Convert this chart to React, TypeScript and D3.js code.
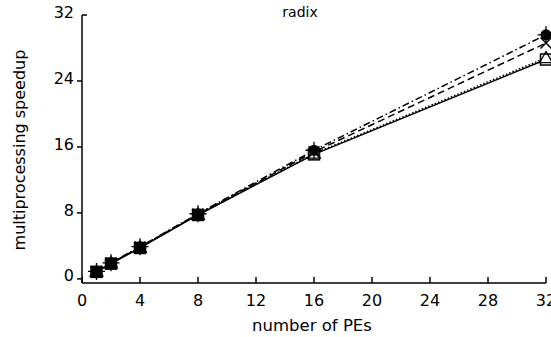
import React, { useEffect, useRef } from 'react'
import * as d3 from 'd3'

// data
const pes = [1, 2, 4, 8, 16, 32]
const seriesCircle = [0.9, 1.95, 3.9, 7.9, 15.6, 29.6]
const seriesCross = [0.9, 1.9, 3.85, 7.85, 15.4, 28.6]
const seriesTriangle = [0.9, 1.9, 3.8, 7.8, 15.2, 26.8]
const seriesSquare = [0.85, 1.85, 3.75, 7.75, 15.1, 26.6]
const xTicks = [0, 4, 8, 12, 16, 20, 24, 28, 32]
const yTicks = [0, 8, 16, 24, 32]

const series = [
  { name: 'square', values: seriesSquare, dash: '', marker: 'square' },
  { name: 'triangle', values: seriesTriangle, dash: '1.5,2', marker: 'triangle' },
  { name: 'cross', values: seriesCross, dash: '7,4', marker: 'cross' },
  { name: 'circle', values: seriesCircle, dash: '7,3,1.5,3', marker: 'circle' },
]

const width = 551
const height = 337
const font = "'DejaVu Sans', sans-serif"

function Chart() {
  const ref = useRef<SVGSVGElement>(null)

  useEffect(() => {
    const node = ref.current
    if (!node) return
    const svg = d3.select(node)
    svg.selectAll('*').remove()

    const x = d3.scaleLinear().domain([0, 32]).range([82, 546])
    const y = d3.scaleLinear().domain([-0.5, 32]).range([283, 15])

    // axes
    const xAxis = svg.append('g').attr('transform', `translate(0,${y(-0.5)})`)
    xAxis.append('line').attr('x1', x(0)).attr('x2', x(32)).attr('stroke', '#000').attr('stroke-width', 1.5)
    xAxis.selectAll('line.tick').data(xTicks).join('line')
      .attr('class', 'tick')
      .attr('x1', d => x(d)).attr('x2', d => x(d))
      .attr('y1', 0).attr('y2', -6)
      .attr('stroke', '#000').attr('stroke-width', 1.5)
    xAxis.selectAll('text').data(xTicks).join('text')
      .attr('x', d => x(d)).attr('y', 23)
      .attr('text-anchor', 'middle')
      .attr('font-family', font).attr('font-size', 16).attr('fill', '#000')
      .text(d => d)

    const yAxis = svg.append('g').attr('transform', `translate(${x(0)},0)`)
    yAxis.append('line').attr('y1', y(-0.5)).attr('y2', y(32)).attr('stroke', '#000').attr('stroke-width', 1.5)
    yAxis.selectAll('line.tick').data(yTicks).join('line')
      .attr('class', 'tick')
      .attr('y1', d => y(d)).attr('y2', d => y(d))
      .attr('x1', d => (d === 32 ? 0 : -5)).attr('x2', d => (d === 32 ? 5 : 0))
      .attr('stroke', '#000').attr('stroke-width', 1.5)
    yAxis.selectAll('text').data(yTicks).join('text')
      .attr('x', -8).attr('y', d => y(d) - 3).attr('dy', '0.35em')
      .attr('text-anchor', 'end')
      .attr('font-family', font).attr('font-size', 16).attr('fill', '#000')
      .text(d => d)

    // titles
    svg.append('text').attr('x', 312).attr('y', 331)
      .attr('text-anchor', 'middle').attr('font-family', font).attr('font-size', 16.5)
      .text('number of PEs')
    svg.append('text')
      .attr('transform', `translate(25,${150}) rotate(-90)`)
      .attr('text-anchor', 'middle').attr('font-family', font).attr('font-size', 16)
      .text('multiprocessing speedup')
    svg.append('text').attr('x', 300).attr('y', 17)
      .attr('text-anchor', 'middle').attr('font-family', font).attr('font-size', 14)
      .text('radix')

    // lines
    const line = d3.line<number>()
      .x((_, i) => x(pes[i]))
      .y(d => y(d))

    svg.append('g').selectAll('path').data(series).join('path')
      .attr('d', s => line(s.values))
      .attr('fill', 'none')
      .attr('stroke', '#000')
      .attr('stroke-width', 1.5)
      .attr('stroke-dasharray', s => s.dash)

    // markers
    const r = 5.5
    series.forEach(s => {
      const g = svg.append('g')
      s.values.forEach((v, i) => {
        const cx = x(pes[i])
        const cy = y(v)
        const filled = i < 4
        if (s.marker === 'square') {
          g.append('rect').attr('x', cx - r).attr('y', cy - r).attr('width', 2 * r).attr('height', 2 * r)
            .attr('fill', filled ? '#000' : '#fff').attr('stroke', '#000').attr('stroke-width', 1.5)
        } else if (s.marker === 'triangle') {
          g.append('path').attr('d', d3.symbol(d3.symbolTriangle, 70)())
            .attr('transform', `translate(${cx},${cy + 1})`)
            .attr('fill', filled ? '#000' : 'none').attr('stroke', '#000').attr('stroke-width', 1.3)
        } else if (s.marker === 'cross') {
          g.append('path').attr('d', `M${cx - r},${cy - r}L${cx + r},${cy + r}M${cx - r},${cy + r}L${cx + r},${cy - r}`)
            .attr('stroke', '#000').attr('stroke-width', 1.5)
        } else {
          g.append('circle').attr('cx', cx).attr('cy', cy).attr('r', r)
            .attr('fill', '#000')
          g.append('path').attr('d', `M${cx},${cy - r - 3}V${cy + r + 3}M${cx - r - 3},${cy}H${cx + r + 3}`)
            .attr('stroke', '#000').attr('stroke-width', 1.3)
        }
      })
    })
  }, [])

  return <svg ref={ref} width={width} height={height} style={{ position: 'absolute', left: 0, top: 0, background: '#fff' }} />
}

export default function App() {
  return <Chart />
}
